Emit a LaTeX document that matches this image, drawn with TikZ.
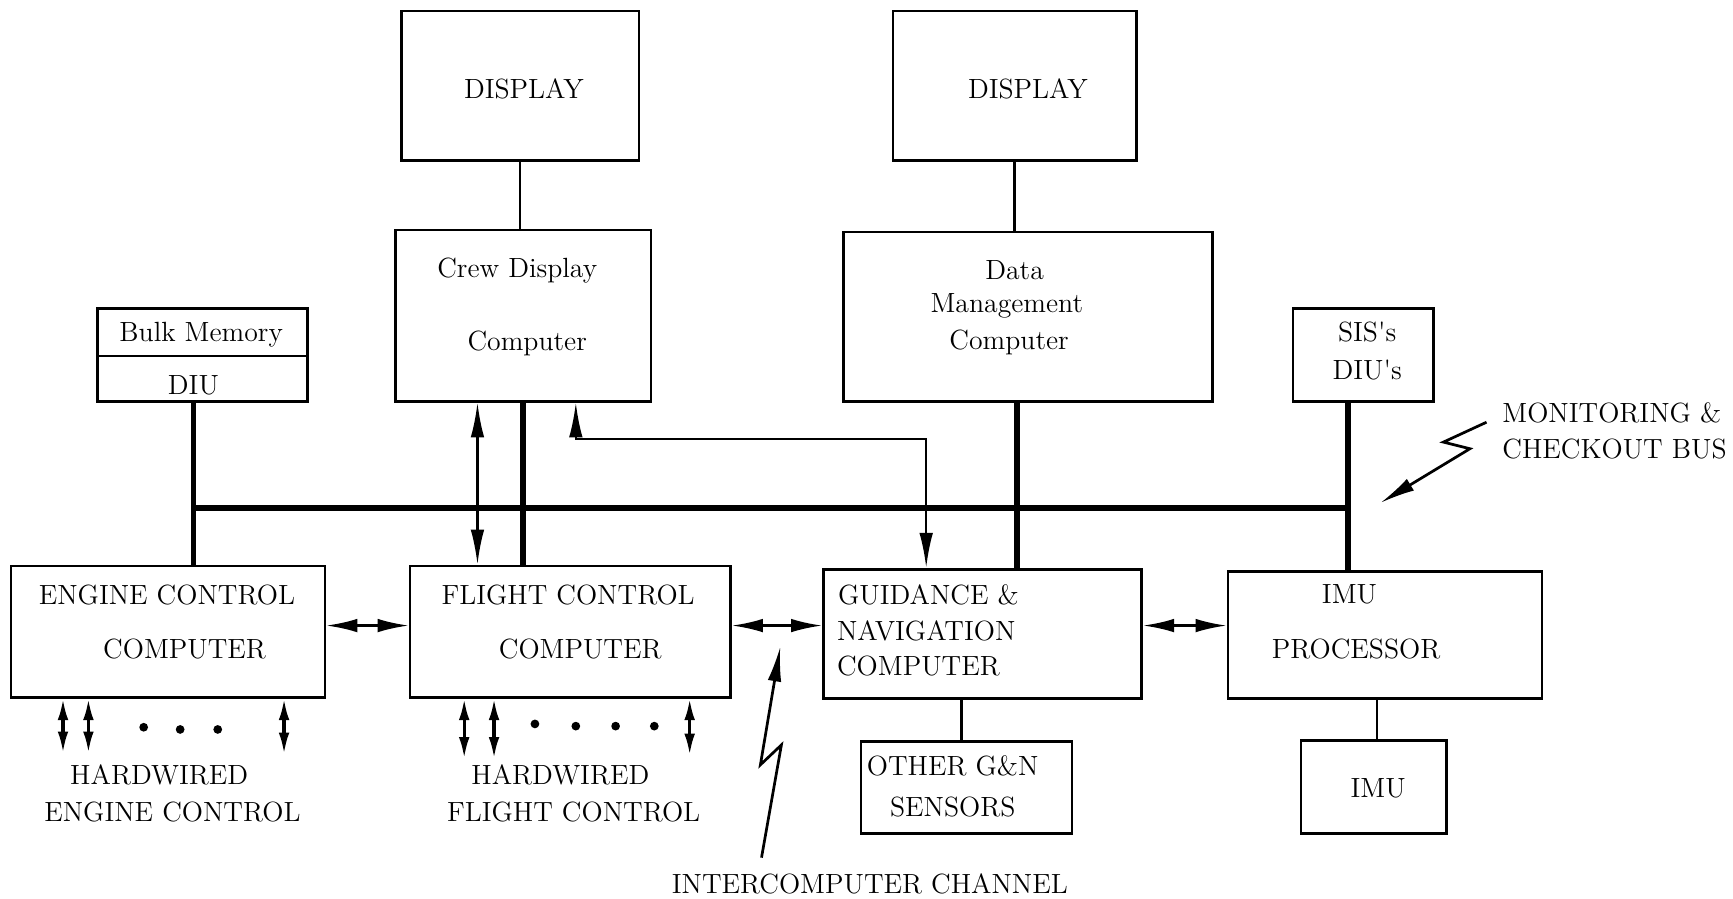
\documentclass[tikz,border=0pt]{standalone}
\usetikzlibrary{fit,arrows.meta}
\begin{document}
\begin{tikzpicture}[x=0.02cm,y=-0.02cm,
  box/.style={draw, line width=1.35pt, inner sep=0pt},
  txt/.style={font=\fontsize{14.3}{17}\selectfont, inner sep=0pt},
  ln/.style={line width=1.3pt},
  bus/.style={line width=3pt},
  dbl/.style={line width=1.3pt, {Latex[length=16pt,width=7pt]}-{Latex[length=16pt,width=7pt]}},
  dblv/.style={line width=1.3pt, {Latex[length=18pt,width=7pt]}-{Latex[length=18pt,width=7pt]}},
  dblh/.style={line width=1.6pt, {Latex[length=11pt,width=5.5pt]}-{Latex[length=11pt,width=5.5pt]}},
  bolt/.style={line width=1.4pt, -{Latex[length=18pt,width=7pt]}},
  dot/.style={circle, fill, inner sep=0pt, minimum size=4.5pt}
]
\useasboundingbox (0,0) rectangle (1568,813);

% boxes
\node[box, fit={(363,10) (578,145)}] (d1) {};
\node[box, fit={(808,10) (1028,145)}] (d2) {};
\node[box, fit={(358,208) (589,363)}] (crew) {};
\node[box, fit={(763,210) (1097,363)}] (dmc) {};
\node[box, fit={(88,279) (278,363)}] (bulk) {};
\coordinate (divl) at (88,322);
\coordinate (divr) at (278,322);
\draw[ln] (divl) -- (divr);
\node[box, fit={(1170,279) (1297,363)}] (sis) {};
\node[box, fit={(10,512) (294,631)}] (ecc) {};
\node[box, fit={(371,512) (661,631)}] (fcc) {};
\node[box, fit={(745,515) (1033,632)}] (gn) {};
\node[box, fit={(1111,517) (1395,632)}] (imup) {};
\node[box, fit={(779,671) (970,754)}] (ogn) {};
\node[box, fit={(1177,670) (1309,754)}] (imu) {};

% texts
\node[txt] (t1) at (474,80) {DISPLAY};
\node[txt] (t2) at (930,80) {DISPLAY};
\node[txt] (t3) at (468,245) {Crew Display};
\node[txt] (t4) at (477,311) {Computer};
\node[txt] (t5) at (918,244) {Data};
\node[txt] (t6) at (911,277) {Management};
\node[txt] (t7) at (913,310) {Computer};
\node[txt] (t8) at (182,303) {Bulk Memory};
\node[txt] (t9) at (175,349) {DIU};
\node[txt] (t10) at (1237,300) {SIS\textquotesingle s};
\node[txt] (t11) at (1237,335) {DIU\textquotesingle s};
\node[txt] (t12) at (151,538) {ENGINE CONTROL};
\node[txt] (t13) at (167,587) {COMPUTER};
\node[txt] (t14) at (514,538) {FLIGHT CONTROL};
\node[txt] (t15) at (525,587) {COMPUTER};
\node[txt, anchor=west] (t16) at (758,538) {GUIDANCE \&};
\node[txt, anchor=west] (t17) at (757,571) {NAVIGATION};
\node[txt, anchor=west] (t18) at (757,603) {COMPUTER};
\node[txt] (t19) at (1221,538) {IMU};
\node[txt] (t20) at (1227,587) {PROCESSOR};
\node[txt] (t21) at (862,693) {OTHER G\&N};
\node[txt] (t22) at (862,730) {SENSORS};
\node[txt] (t23) at (1247,713) {IMU};
\node[txt] (t24) at (144,701) {HARDWIRED};
\node[txt] (t25) at (156,735) {ENGINE CONTROL};
\node[txt] (t26) at (507,701) {HARDWIRED};
\node[txt] (t27) at (519,735) {FLIGHT CONTROL};
\node[txt] (t28) at (787,800) {INTERCOMPUTER CHANNEL};
\node[txt, anchor=west] (t29) at (1359,374) {MONITORING \&};
\node[txt, anchor=west] (t30) at (1359,406) {CHECKOUT BUS};

% helper coordinates
\coordinate (c57) at (57,0);
\coordinate (c80) at (80,0);
\coordinate (c257) at (257,0);
\coordinate (c420) at (420,0);
\coordinate (c447) at (447,0);
\coordinate (c624) at (624,0);
\coordinate (c175) at (175,0);
\coordinate (c1220) at (1220,0);
\coordinate (c473) at (473,0);
\coordinate (c432) at (432,0);
\coordinate (c521) at (521,0);
\coordinate (c838) at (838,0);
\coordinate (c918) at (918,0);
\coordinate (c920) at (920,0);
\coordinate (c870) at (870,0);
\coordinate (c1246) at (1246,0);
\coordinate (ybus) at (0,460);
\coordinate (yturn) at (0,397);
\coordinate (yh) at (0,566);

% thin links
\draw[ln] (d1.south) -- (d1.south |- crew.north);
\draw[ln] (d2.south -| c918) -- (dmc.north -| c918);
\draw[ln] (gn.south -| c870) -- (ogn.north -| c870);
\draw[ln] (imup.south -| c1246) -- (imu.north -| c1246);

% bus
\draw[bus] (bulk.south -| c175) -- (ecc.north -| c175);
\draw[bus] (sis.south -| c1220) -- (imup.north -| c1220);
\draw[bus] (c175 |- ybus) -- (c1220 |- ybus);
\draw[bus] (crew.south -| c473) -- (fcc.north -| c473);
\draw[bus] (dmc.south -| c920) -- (gn.north -| c920);

% arrows
\draw[dblv] (crew.south -| c432) -- (fcc.north -| c432);
\draw[dblv] (crew.south -| c521) -- (c521 |- yturn) -- (c838 |- yturn) -- (gn.north -| c838);
\draw[dbl] (ecc.east |- yh) -- (fcc.west |- yh);
\draw[dbl] (fcc.east |- yh) -- (gn.west |- yh);
\draw[dbl] (gn.east |- yh) -- (imup.west |- yh);

% hardwired
\draw[dblh] (ecc.south -| c57) -- ++(0,49);
\draw[dblh] (ecc.south -| c80) -- ++(0,49);
\draw[dblh] (ecc.south -| c257) -- ++(0,50);
\draw[dblh] (fcc.south -| c420) -- ++(0,54);
\draw[dblh] (fcc.south -| c447) -- ++(0,54);
\draw[dblh] (fcc.south -| c624) -- ++(0,51);
\node[dot] (e1) at (130,658) {};
\node[dot] (e2) at (163,660) {};
\node[dot] (e3) at (197,660) {};
\node[dot] (f1) at (484,655) {};
\node[dot] (f2) at (521,657) {};
\node[dot] (f3) at (557,657) {};
\node[dot] (f4) at (592,657) {};

% lightning arrows
\coordinate (ic0) at (689,776);
\coordinate (ic1) at (707,674);
\coordinate (ic2) at (688,692);
\coordinate (ic3) at (706,585);
\draw[bolt] (ic0) -- (ic1) -- (ic2) -- (ic3);
\coordinate (mc0) at (1345,382);
\coordinate (mc1) at (1306,400);
\coordinate (mc2) at (1330,406);
\coordinate (mc3) at (1249,455);
\draw[bolt] (mc0) -- (mc1) -- (mc2) -- (mc3);
\end{tikzpicture}
\end{document}
